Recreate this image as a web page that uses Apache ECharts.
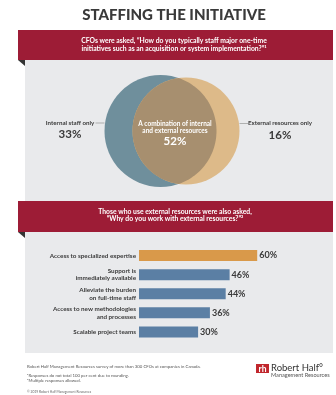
<!DOCTYPE html>
<html><head><meta charset="utf-8">
<script src="https://cdn.jsdelivr.net/npm/echarts@6/dist/echarts.min.js"></script>
<style>html,body{margin:0;padding:0;background:#fff}#c{width:336px;height:395px}</style>
</head><body><div id="c"></div>
<script>
const titleText = 'STAFFING THE INITIATIVE';
const question1 = ['CFOs were asked, \u201cHow do you typically staff major one-time', 'initiatives such as an acquisition or system implementation?\u201d\u00b9'];
const question2 = ['Those who use external resources were also asked,', '\u201cWhy do you work with external resources?\u201d\u00b2'];
const vennLabels = ['Internal staff only', 'A combination of internal\nand external resources', 'External resources only'];
const vennValues = [33, 52, 16];
const reasons = ['Access to specialized expertise', 'Support is\nimmediately available', 'Alleviate the burden\non full-time staff', 'Access to new methodologies\nand processes', 'Scalable project teams'];
const reasonValues = [60, 46, 44, 36, 30];
const footnotes = ['Robert Half Management Resources survey of more than 300 CFOs at companies in Canada.', '\u00b9Responses do not total 100 per cent due to rounding.', '\u00b2Multiple responses allowed.'];
const copyright = '\u00a9 2019 Robert Half Management Resources';

const FONT = 'Lato, "DejaVu Sans", sans-serif';
const RED = '#9d1c36', GRAY = '#e9eaec', DARK = '#3a3a3a';
const BLUE_C = '#6f8f9c', TAN_C = '#ddba89', MID_C = '#a78f6f';
const ORANGE = '#d9994a', BAR_BLUE = '#5b7fa4';

const chart = echarts.init(document.getElementById('c'), null, {renderer: 'canvas'});

function vennRender(params, api) {
  const c1 = {x: 160.5, y: 131, r: 56};
  const c2 = {x: 186, y: 131, r: 53.5};
  const d = c2.x - c1.x;
  const a = (d * d + c1.r * c1.r - c2.r * c2.r) / (2 * d);
  const h = Math.sqrt(c1.r * c1.r - a * a);
  const ix = c1.x + a;
  const pts = [];
  const t2a = Math.atan2(-h, ix - c2.x), t2b = Math.atan2(h, ix - c2.x);
  const N = 60;
  for (let i = 0; i <= N; i++) {
    const t = t2a - (i / N) * (2 * Math.PI - (t2b - t2a));
    pts.push([c2.x + c2.r * Math.cos(t), c2.y + c2.r * Math.sin(t)]);
  }
  const t1a = Math.atan2(h, ix - c1.x), t1b = Math.atan2(-h, ix - c1.x);
  for (let i = 0; i <= N; i++) {
    const t = t1a + (i / N) * (t1b - t1a);
    pts.push([c1.x + c1.r * Math.cos(t), c1.y + c1.r * Math.sin(t)]);
  }
  return {
    type: 'group',
    children: [
      {type: 'circle', shape: {cx: c1.x, cy: c1.y, r: c1.r}, style: {fill: BLUE_C}},
      {type: 'circle', shape: {cx: c2.x, cy: c2.y, r: c2.r}, style: {fill: TAN_C}},
      {type: 'polygon', shape: {points: pts}, style: {fill: MID_C}},
      {type: 'text', x: 175, y: 127.5, style: {text: vennLabels[1], fill: '#fff', font: 'bold 6.5px ' + FONT, align: 'center', verticalAlign: 'middle', lineHeight: 7.5}},
      {type: 'text', x: 175, y: 141, style: {text: vennValues[1] + '%', fill: '#fff', font: 'bold 11.5px ' + FONT, align: 'center', verticalAlign: 'middle'}},
      {type: 'text', x: 70, y: 123, style: {text: vennLabels[0], fill: DARK, font: 'bold 6.2px ' + FONT, align: 'center', verticalAlign: 'middle'}},
      {type: 'text', x: 70, y: 134.5, style: {text: vennValues[0] + '%', fill: DARK, font: 'bold 11.5px ' + FONT, align: 'center', verticalAlign: 'middle'}},
      {type: 'line', shape: {x1: 95.5, y1: 123, x2: 104.5, y2: 123}, style: {stroke: '#888', lineWidth: 0.6}},
      {type: 'text', x: 280, y: 123.5, style: {text: vennLabels[2], fill: DARK, font: 'bold 6.2px ' + FONT, align: 'center', verticalAlign: 'middle'}},
      {type: 'text', x: 280, y: 135, style: {text: vennValues[2] + '%', fill: DARK, font: 'bold 11.5px ' + FONT, align: 'center', verticalAlign: 'middle'}},
      {type: 'line', shape: {x1: 239.5, y1: 123.5, x2: 248.5, y2: 123.5}, style: {stroke: '#888', lineWidth: 0.6}}
    ]
  };
}

const option = {
  animation: false,
  backgroundColor: '#fff',
  graphic: [
    {type: 'text', x: 174, y: 15, z: 10, style: {text: titleText, fill: DARK, font: '900 15px ' + FONT, align: 'center', verticalAlign: 'middle'}},
    {type: 'rect', shape: {x: 25, y: 60, width: 308, height: 293}, style: {fill: GRAY}, z: -10},
    {type: 'rect', shape: {x: 18, y: 30, width: 315, height: 30}, style: {fill: RED}, z: 5},
    {type: 'polygon', shape: {points: [[18, 60], [25, 60], [25, 66]]}, style: {fill: '#333'}, z: 5},
    {type: 'text', x: 174, y: 45, z: 6, style: {text: question1.join('\n'), fill: '#fff', font: 'bold 6.8px ' + FONT, align: 'center', verticalAlign: 'middle', lineHeight: 8}},
    {type: 'rect', shape: {x: 18, y: 201, width: 315, height: 31}, style: {fill: RED}, z: 5},
    {type: 'polygon', shape: {points: [[18, 232], [25, 232], [25, 238]]}, style: {fill: '#333'}, z: 5},
    {type: 'text', x: 175, y: 215.5, z: 6, style: {text: question2.join('\n'), fill: '#fff', font: 'bold 6.8px ' + FONT, align: 'center', verticalAlign: 'middle', lineHeight: 7.5}},
    {type: 'text', x: 27, y: 367, style: {text: footnotes[0], fill: '#555', font: '4.3px ' + FONT, verticalAlign: 'middle'}},
    {type: 'text', x: 27, y: 375.5, style: {text: footnotes[1], fill: '#555', font: '4.3px ' + FONT, verticalAlign: 'middle'}},
    {type: 'text', x: 27, y: 380.5, style: {text: footnotes[2], fill: '#555', font: '4.3px ' + FONT, verticalAlign: 'middle'}},
    {type: 'text', x: 27, y: 392, style: {text: copyright, fill: '#666', font: '3.3px ' + FONT, verticalAlign: 'middle'}},
    {type: 'rect', shape: {x: 256, y: 364, width: 13, height: 9}, style: {fill: '#c1272d'}},
    {type: 'text', x: 262.5, y: 368.8, style: {text: 'rh', fill: '#fff', font: 'bold 8.5px ' + FONT, align: 'center', verticalAlign: 'middle'}},
    {type: 'text', x: 271, y: 368, style: {text: 'Robert Half\u00b0', fill: '#333', font: '9.5px ' + FONT, verticalAlign: 'middle'}},
    {type: 'text', x: 271, y: 375.5, style: {text: 'Management Resources', fill: '#555', font: '5.6px ' + FONT, verticalAlign: 'middle'}}
  ],
  grid: [{left: 139, top: 246, width: 240, height: 95.5}],
  xAxis: [{type: 'value', min: 0, max: 100, show: false}],
  yAxis: [{
    type: 'category', data: reasons, inverse: true,
    axisLine: {show: false}, axisTick: {show: false}, splitLine: {show: false},
    axisLabel: {margin: 3, fontSize: 6.3, fontWeight: 'bold', color: DARK, fontFamily: FONT, lineHeight: 7.5, align: 'right'}
  }],
  series: [
    {
      type: 'bar', barWidth: 11,
      data: reasonValues.map((v, i) => ({value: v, itemStyle: {color: i === 0 ? ORANGE : BAR_BLUE}})),
      label: {show: true, position: 'right', distance: 2, formatter: '{c}%', fontSize: 9, fontWeight: 'bold', color: DARK, fontFamily: FONT}
    },
    {
      type: 'custom', coordinateSystem: 'none', renderItem: vennRender, data: [vennValues], silent: true
    }
  ]
};
chart.setOption(option);
</script></body></html>
